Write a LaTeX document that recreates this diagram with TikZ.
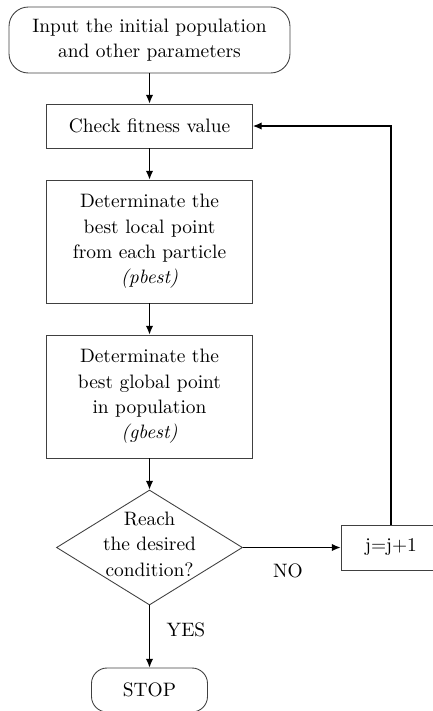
\documentclass[tikz,border=0pt]{standalone}
\usetikzlibrary{arrows.meta,shapes.geometric}
\newlength\pxu \setlength\pxu{0.515pt}
\begin{document}
\begin{tikzpicture}[x=\pxu,y=-\pxu,
 every node/.style={font=\fontsize{10}{13.1}\selectfont, align=center},
 boxstyle/.style={draw=black!75, line width=0.45pt, rectangle, inner sep=0pt},
 roundbox/.style={boxstyle, rounded corners=10pt},
 conn/.style={line width=0.6pt, -{Latex[length=4.5pt,width=3.8pt]}},
 decision/.style={draw=black!75, line width=0.45pt, diamond, inner sep=0pt, minimum width=186\pxu, minimum height=115\pxu},
 lbl/.style={inner sep=0pt}]
\useasboundingbox (0,0) rectangle (433,711);
\clip (0,0) rectangle (433,711);
\node[roundbox, minimum width=281\pxu, minimum height=66\pxu] (start) at (149.5,40) {Input the initial population\\and other parameters};
\node[boxstyle, minimum width=206\pxu, minimum height=44\pxu] (check) at (149.5,126) {Check fitness value};
\node[boxstyle, minimum width=206\pxu, minimum height=123\pxu] (b1) at (149.5,241.5) {Determinate the\\best local point\\from each particle\\\textit{(pbest)}};
\node[boxstyle, minimum width=206\pxu, minimum height=123\pxu] (b2) at (149.5,396.5) {Determinate the\\best global point\\in population\\\textit{(gbest)}};
\node[decision] (dec) at (149.5,547.5) {};
\node[lbl] (dectext) at (149.5,544) {Reach\\the desired\\condition?};
\node[boxstyle, minimum width=100\pxu, minimum height=45\pxu] (jbox) at (391,547.5) {j=j+1};
\node[roundbox, rounded corners=8pt, minimum width=116\pxu, minimum height=44\pxu] (stop) at (149.5,690) {STOP};
\node[lbl] (no) at (288,571) {NO};
\node[lbl] (yes) at (186,630) {YES};
\draw[conn] (start) -- (check);
\draw[conn] (check) -- (b1);
\draw[conn] (b1) -- (b2);
\draw[conn] (b2) -- (dec);
\draw[conn] (dec.east) -- (jbox.west);
\draw[conn] (jbox.north) |- (check.east);
\draw[conn] (dec.south) -- (stop.north);
\end{tikzpicture}
\end{document}
